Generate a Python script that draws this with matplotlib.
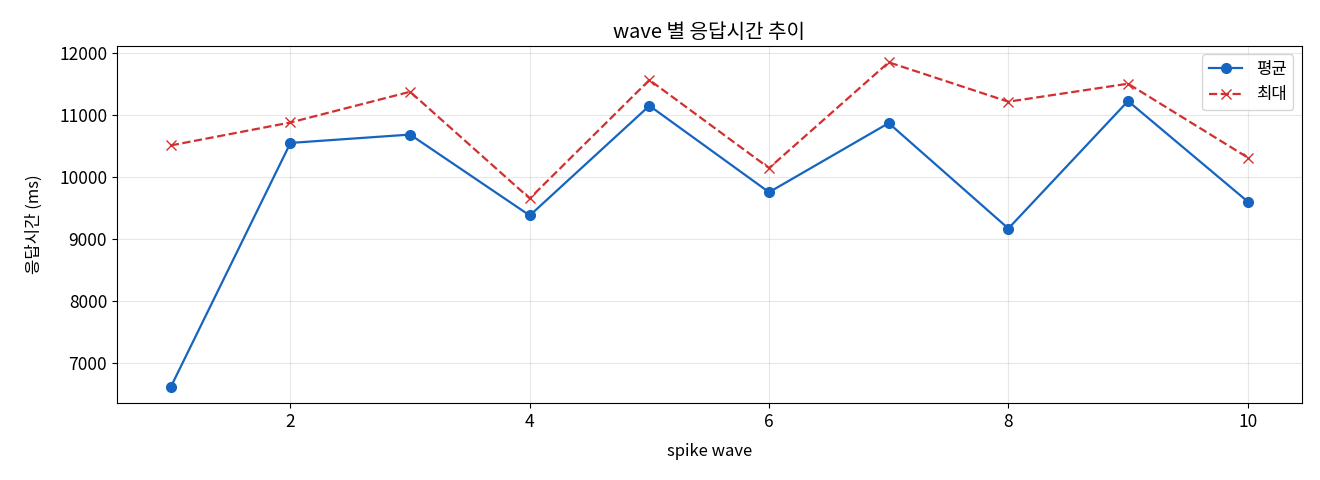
import matplotlib
matplotlib.use("Agg")
import matplotlib.pyplot as plt

plt.rcParams['font.family'] = ['Noto Sans CJK KR', 'DejaVu Sans']
plt.rcParams['font.size'] = 12

# 데이터
waves = [1, 2, 3, 4, 5, 6, 7, 8, 9, 10]
avg_ms = [6610, 10545, 10680, 9375, 11145, 9750, 10865, 9165, 11220, 9600]
max_ms = [10505, 10875, 11370, 9650, 11560, 10140, 11845, 11210, 11500, 10310]

fig, ax = plt.subplots(figsize=(13.2, 4.8), dpi=100)
fig.subplots_adjust(left=0.0886, right=0.986, top=0.904, bottom=0.160)

ax.plot(waves, avg_ms, marker='o', color='#1565C0', label='평균', markersize=7, linewidth=1.6)
ax.plot(waves, max_ms, marker='x', linestyle='--', color='#D32F2F', label='최대', markersize=7, linewidth=1.6)

ax.set_title('wave 별 응답시간 추이', fontsize=14.5)
ax.set_xlabel('spike wave', labelpad=9)
ax.set_ylabel('응답시간 (ms)', labelpad=12)
ax.tick_params(labelsize=12.5)
ax.grid(True, alpha=0.3)
ax.legend(loc='upper right')

fig.savefig('out.png')
